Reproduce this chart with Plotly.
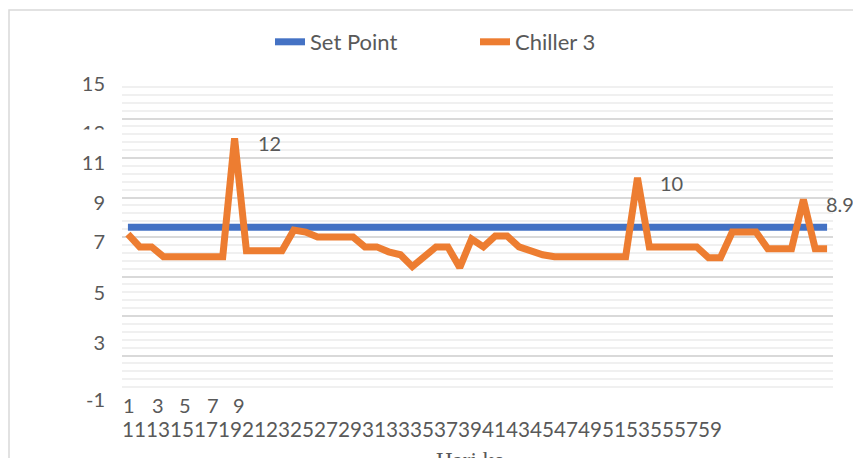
import plotly.graph_objects as go

# ---- data ----
days = list(range(1, 61))
set_point = [7.5] * 60
chiller3 = [7.15, 6.5, 6.5, 6.0, 6.0, 6.0, 6.0, 6.0, 6.0, 12.0,
            6.3, 6.3, 6.3, 6.3, 7.35, 7.25, 7.0, 7.0, 7.0, 7.0,
            6.5, 6.5, 6.25, 6.1, 5.5, 6.0, 6.5, 6.5, 5.45, 6.9,
            6.5, 7.05, 7.05, 6.5, 6.3, 6.1, 6.0, 6.0, 6.0, 6.0,
            6.0, 6.0, 6.0, 10.0, 6.5, 6.5, 6.5, 6.5, 6.5, 5.95,
            5.95, 7.25, 7.25, 7.25, 6.4, 6.4, 6.4, 8.9, 6.4, 6.4]
labelled_days = [10, 44, 58]
labelled_text = ["12", "10", "8.9"]

y_tick_text = ["15", "13", "11", "9", "7", "5", "3", "-1"]
y_tick_pos = [15, 12.54, 11, 9, 7, 4.44, 1.87, -1]

x_row1 = ["1", "3", "5", "7", "9"]
x_row1_px = [129, 157.5, 184.5, 212.5, 238.5]
x_row2 = ["11", "13", "15", "17", "19", "21", "23", "25", "27", "29", "31", "33", "35",
          "37", "39", "41", "43", "45", "47", "49", "51", "53", "55", "57", "59"]
x_title = "Hari ke-"

# ---- layout geometry ----
W, H = 853, 458
L, R, T, B = 122, 20, 79, 63
PW = W - L - R
PH = H - T - B

def px_x(p):
    return (p - L) / PW

def px_y(p):
    return 1 - (p - T) / PH

FONT = "Lato"
GREY = "#595959"

fig = go.Figure()
fig.add_trace(go.Scatter(x=days, y=set_point, name="Set Point", mode="lines",
                         line=dict(color="#4472C4", width=7), yaxis="y"))
fig.add_trace(go.Scatter(x=days, y=chiller3, name="Chiller 3", mode="lines",
                         line=dict(color="#ED7D31", width=7, shape="linear"),
                         yaxis="y2"))

annotations = []
for d, t in zip(labelled_days, labelled_text):
    annotations.append(dict(x=d, y=chiller3[d - 1], xref="x", yref="y2", text=t,
                            showarrow=False, xanchor="left", yanchor="middle",
                            xshift=21, yshift=-5,
                            font=dict(family=FONT, size=20, color=GREY)))
for t, p in zip(x_row1, x_row1_px):
    annotations.append(dict(x=px_x(p), y=px_y(404.5), xref="paper", yref="paper",
                            text=t, showarrow=False, xanchor="center", yanchor="middle",
                            font=dict(family=FONT, size=20, color=GREY)))
annotations.append(dict(x=px_x(120), y=px_y(429), xref="paper", yref="paper",
                        text="".join(x_row2), showarrow=False, xanchor="left",
                        yanchor="middle",
                        font=dict(family=FONT, size=20.7, color=GREY)))
annotations.append(dict(x=px_x(474), y=px_y(460), xref="paper", yref="paper",
                        text=x_title, showarrow=False, xanchor="center",
                        yanchor="middle",
                        font=dict(family="Liberation Serif", size=23, color=GREY)))

shapes = [
    dict(type="rect", xref="paper", yref="paper",
         x0=px_x(9), x1=px_x(900), y0=px_y(10), y1=px_y(520),
         line=dict(color="#d9d9d9", width=1.5), fillcolor="rgba(0,0,0,0)",
         layer="below"),
    dict(type="rect", xref="paper", yref="paper",
         x0=px_x(70), x1=px_x(112), y0=px_y(150), y1=px_y(129.5),
         line=dict(width=0), fillcolor="white", layer="above"),
]

fig.update_layout(
    width=W, height=H,
    margin=dict(l=L, r=R, t=T, b=B, pad=0),
    paper_bgcolor="white", plot_bgcolor="white",
    font=dict(family=FONT, color=GREY, size=19),
    showlegend=True,
    legend=dict(orientation="h", x=px_x(270), xanchor="left",
                y=px_y(42), yanchor="middle",
                font=dict(family=FONT, size=22, color=GREY),
                entrywidth=160, bgcolor="rgba(0,0,0,0)"),
    xaxis=dict(range=[0.5, 60.5], showgrid=False, zeroline=False,
               showticklabels=False, ticks="", showline=False),
    yaxis=dict(range=[-1, 15], tick0=-1, dtick=2, showticklabels=False,
               showgrid=True, gridcolor="#d9d9d9", gridwidth=1.5,
               zeroline=False, ticks="",
               minor=dict(dtick=0.4, tick0=-1, showgrid=True,
                          gridcolor="#f0f0f0", gridwidth=1.5)),
    yaxis2=dict(range=[-1, 15], overlaying="y", side="left", showgrid=False,
                zeroline=False, tickmode="array", tickvals=y_tick_pos,
                ticktext=y_tick_text, ticks="", ticklabelshift=5,
                ticklabelstandoff=16,
                tickfont=dict(family=FONT, size=20, color=GREY)),
    annotations=annotations,
    shapes=shapes,
)

fig.write_html("out.html",
               config={"displayModeBar": False},
               post_script="document.body.style.margin='0';document.body.style.overflow='hidden';")
